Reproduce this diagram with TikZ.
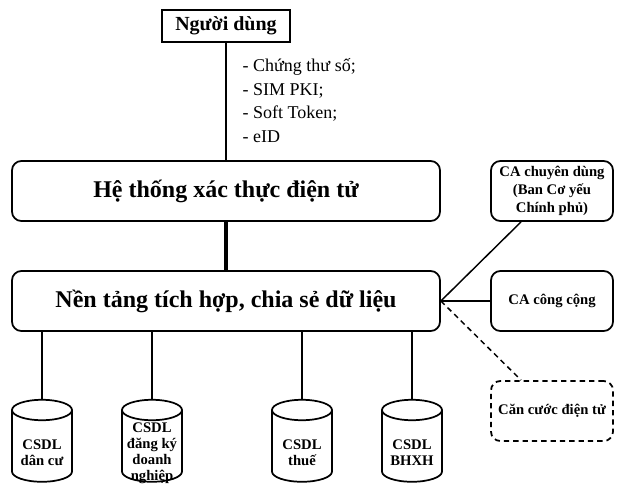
\documentclass[tikz,border=0pt]{standalone}
\usepackage{fontspec}
\setmainfont{Liberation Serif}
\usetikzlibrary{shapes.geometric,calc}

\begin{document}
\begin{tikzpicture}[x=0.75pt,y=-0.75pt,line width=1.1pt,
    box/.style={draw,line width=1.3pt,rounded corners=7pt,align=center,
      font=\fontsize{11}{13.5}\selectfont\bfseries,minimum width=91.5pt,minimum height=45pt},
    bigbox/.style={box,minimum width=321pt,font=\fontsize{18}{20}\selectfont\bfseries},
    userbox/.style={draw,line width=1.5pt,minimum width=96pt,minimum height=24pt,
      font=\fontsize{15}{17}\selectfont\bfseries},
    db/.style={draw,line width=1.3pt,cylinder,shape border rotate=90,aspect=2.3,
      minimum width=45pt,minimum height=61.5pt},
    dbtext/.style={align=center,font=\fontsize{11}{12}\selectfont\bfseries,yshift=-3pt}]
      \useasboundingbox (0,0) rectangle (622,493);
      \node[userbox] (user) at (226,26) {Người dùng};
      \node[bigbox] (htx) at (226,191) {Hệ thống xác thực điện tử};
      \node[bigbox] (ntt) at (226,301) {Nền tảng tích hợp, chia sẻ dữ liệu};
      \node[box] (cadd) at (552,191) {CA chuyên dùng\\(Ban Cơ yếu\\Chính phủ)};
      \node[box] (cacc) at (552,301) {CA công cộng};
      \node[box,dashed,dash pattern=on 4pt off 3pt] (cc) at (552,411) {Căn cước điện tử};
      \node[anchor=north west,align=left,inner sep=0pt,font=\fontsize{13.5}{17.6}\selectfont] (pt) at (242,58)
        {- Chứng thư số;\\- SIM PKI;\\- Soft Token;\\- eID};
      \node[db,label={[dbtext]center:CSDL\\dân cư}] (db1) at (42,449) {};
      \node[db,label={[dbtext]center:CSDL\\đăng ký\\doanh\\nghiệp}] (db2) at (152,449) {};
      \node[db,label={[dbtext]center:CSDL\\thuế}] (db3) at (302,449) {};
      \node[db,label={[dbtext]center:CSDL\\BHXH}] (db4) at (412,449) {};
      \draw (user) -- (htx);
      \draw[line width=2.4pt] (htx) -- (ntt);
      \draw (ntt.east) -- ($(cadd.south west)!0.25!(cadd.south east)$);
      \draw (ntt.east) -- (cacc.west);
      \draw[dashed,dash pattern=on 4pt off 3pt] (ntt.east) -- ($(cc.north west)!0.25!(cc.north east)$);
      \foreach \i in {1,...,4}
        \draw (db\i.north) -- (db\i.north |- ntt.south);
    \end{tikzpicture}
\end{document}
